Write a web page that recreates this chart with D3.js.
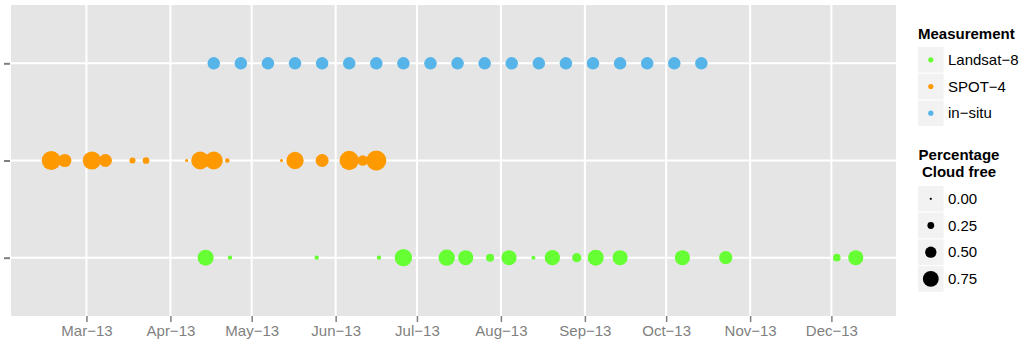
<!DOCTYPE html>
<html>
<head>
<meta charset="utf-8">
<script src="https://cdn.jsdelivr.net/npm/d3@7"></script>
<style>
  body { margin: 0; background: #fff; }
  svg { display: block; font-family: "Liberation Sans", Arial, sans-serif; }
</style>
</head>
<body>
<div id="chart"></div>
<script>
// measurement types, top to bottom on the plot
var measurements = ['in-situ', 'SPOT-4', 'Landsat-8'];
var legendOrder = ['Landsat-8', 'SPOT-4', 'in-situ'];
var colors = {'Landsat-8': '#66ff33', 'SPOT-4': '#ff9900', 'in-situ': '#56b4e9'};

var landsatDates = ['2013-04-14', '2013-04-23', '2013-05-25', '2013-06-17', '2013-06-26',
  '2013-07-12', '2013-07-19', '2013-07-28', '2013-08-04', '2013-08-13', '2013-08-20',
  '2013-08-29', '2013-09-05', '2013-09-14', '2013-10-07', '2013-10-23', '2013-12-03', '2013-12-10'];
var landsatCloudFree = [0.74, 0.11, 0.11, 0.11, 0.81, 0.76, 0.69, 0.31, 0.69, 0.09, 0.70,
  0.38, 0.74, 0.69, 0.69, 0.59, 0.29, 0.69];

var spotDates = ['2013-02-16', '2013-02-21', '2013-03-03', '2013-03-08', '2013-03-18',
  '2013-03-23', '2013-04-07', '2013-04-12', '2013-04-17', '2013-04-22', '2013-05-12',
  '2013-05-17', '2013-05-27', '2013-06-06', '2013-06-11', '2013-06-16'];
var spotCloudFree = [0.90, 0.59, 0.86, 0.58, 0.20, 0.24, 0.04, 0.85, 0.85, 0.12, 0.04,
  0.81, 0.58, 0.92, 0.44, 0.96];

var insituDates = ['2013-04-17', '2013-04-27', '2013-05-07', '2013-05-17', '2013-05-27',
  '2013-06-06', '2013-06-16', '2013-06-26', '2013-07-06', '2013-07-16', '2013-07-26',
  '2013-08-05', '2013-08-15', '2013-08-25', '2013-09-04', '2013-09-14', '2013-09-24',
  '2013-10-04', '2013-10-14'];
var insituCloudFree = [0.55, 0.55, 0.55, 0.55, 0.55, 0.55, 0.55, 0.55, 0.55, 0.55, 0.55,
  0.55, 0.55, 0.55, 0.55, 0.55, 0.55, 0.55, 0.55];

var sizeBreaks = [0, 0.25, 0.5, 0.75];

var width = 1024, height = 346;
var panel = {left: 11, top: 5, right: 896, bottom: 316};

var parse = d3.utcParse('%Y-%m-%d');
function rows(type, dates, vals) {
  return dates.map(function (d, i) { return {type: type, date: parse(d), value: vals[i]}; });
}
var data = [].concat(
  rows('in-situ', insituDates, insituCloudFree),
  rows('SPOT-4', spotDates, spotCloudFree),
  rows('Landsat-8', landsatDates, landsatCloudFree));

var minus = function (s) { return s.replace(/-/g, '\u2212'); };

// x: data range expanded 5% each side
var ext = d3.extent(data, function (d) { return d.date; });
var pad = (ext[1] - ext[0]) * 0.05;
var xScale = d3.scaleUtc()
  .domain([new Date(+ext[0] - pad), new Date(+ext[1] + pad)])
  .range([panel.left, panel.right]);
var yScale = d3.scalePoint()
  .domain(measurements)
  .range([panel.top, panel.bottom])
  .padding(0.6);
var rScale = d3.scaleLinear().domain([0, 1]).range([1.15, 10.4]);

var svg = d3.select('#chart').append('svg')
  .attr('width', width)
  .attr('height', height);

svg.append('rect')
  .attr('x', panel.left).attr('y', panel.top)
  .attr('width', panel.right - panel.left)
  .attr('height', panel.bottom - panel.top)
  .attr('fill', '#e5e5e5');

var months = xScale.ticks(d3.utcMonth.every(1));

// grid
svg.append('g').selectAll('line')
  .data(months)
  .enter().append('line')
  .attr('x1', function (d) { return xScale(d); })
  .attr('x2', function (d) { return xScale(d); })
  .attr('y1', panel.top).attr('y2', panel.bottom)
  .attr('stroke', '#fff').attr('stroke-width', 2);
svg.append('g').selectAll('line')
  .data(measurements)
  .enter().append('line')
  .attr('x1', panel.left).attr('x2', panel.right)
  .attr('y1', function (d) { return yScale(d); })
  .attr('y2', function (d) { return yScale(d); })
  .attr('stroke', '#fff').attr('stroke-width', 2);

// points
svg.append('g').selectAll('circle')
  .data(data)
  .enter().append('circle')
  .attr('cx', function (d) { return xScale(d.date); })
  .attr('cy', function (d) { return yScale(d.type); })
  .attr('r', function (d) { return rScale(d.value); })
  .attr('fill', function (d) { return colors[d.type]; });

// axes
var xAxis = d3.axisBottom(xScale)
  .tickValues(months)
  .tickSize(6)
  .tickPadding(3)
  .tickFormat(function (d) { return minus(d3.utcFormat('%b-%y')(d)); });
var gx = svg.append('g')
  .attr('transform', 'translate(0,' + panel.bottom + ')')
  .call(xAxis);
gx.select('.domain').remove();
gx.selectAll('line').attr('stroke', '#7f7f7f').attr('stroke-width', 1.5);
gx.selectAll('text').attr('fill', '#7f7f7f').style('font-size', '15px');

var yAxis = d3.axisLeft(yScale).tickSize(6).tickFormat('');
var gy = svg.append('g')
  .attr('transform', 'translate(' + (panel.left - 1) + ',0)')
  .call(yAxis);
gy.select('.domain').remove();
gy.selectAll('line').attr('stroke', '#7f7f7f').attr('stroke-width', 2);

// legends
var lx = 918, keySize = 25.6, keyStep = 26.7;
var leg = svg.append('g');
leg.append('text')
  .attr('x', lx).attr('y', 39)
  .style('font-size', '15px').style('font-weight', 'bold')
  .text('Measurement');
var colorKeys = leg.selectAll('.ckey')
  .data(legendOrder)
  .enter().append('g')
  .attr('transform', function (d, i) { return 'translate(' + lx + ',' + (47 + i * keyStep) + ')'; });
colorKeys.append('rect')
  .attr('width', keySize).attr('height', keySize)
  .attr('fill', '#f2f2f2');
colorKeys.append('circle')
  .attr('cx', keySize / 2).attr('cy', keySize / 2).attr('r', 2.6)
  .attr('fill', function (d) { return colors[d]; });
colorKeys.append('text')
  .attr('x', 30).attr('y', keySize / 2 + 5.3)
  .style('font-size', '15px')
  .text(function (d) { return minus(d); });

var title2 = leg.append('text')
  .attr('x', lx + 41).attr('y', 160)
  .attr('text-anchor', 'middle')
  .style('font-size', '15px').style('font-weight', 'bold');
title2.append('tspan').attr('x', lx + 41).attr('y', 160).text('Percentage');
title2.append('tspan').attr('x', lx + 41).attr('y', 177).text('Cloud free');

var sizeKeys = leg.selectAll('.skey')
  .data(sizeBreaks)
  .enter().append('g')
  .attr('transform', function (d, i) { return 'translate(' + lx + ',' + (186 + i * keyStep) + ')'; });
sizeKeys.append('rect')
  .attr('width', keySize).attr('height', keySize)
  .attr('fill', '#f2f2f2');
sizeKeys.append('circle')
  .attr('cx', keySize / 2).attr('cy', keySize / 2)
  .attr('r', function (d) { return rScale(d) * 0.98; })
  .attr('fill', '#000');
sizeKeys.append('text')
  .attr('x', 30).attr('y', keySize / 2 + 5.3)
  .style('font-size', '15px')
  .text(function (d) { return d3.format('.2f')(d); });
</script>
</body>
</html>
